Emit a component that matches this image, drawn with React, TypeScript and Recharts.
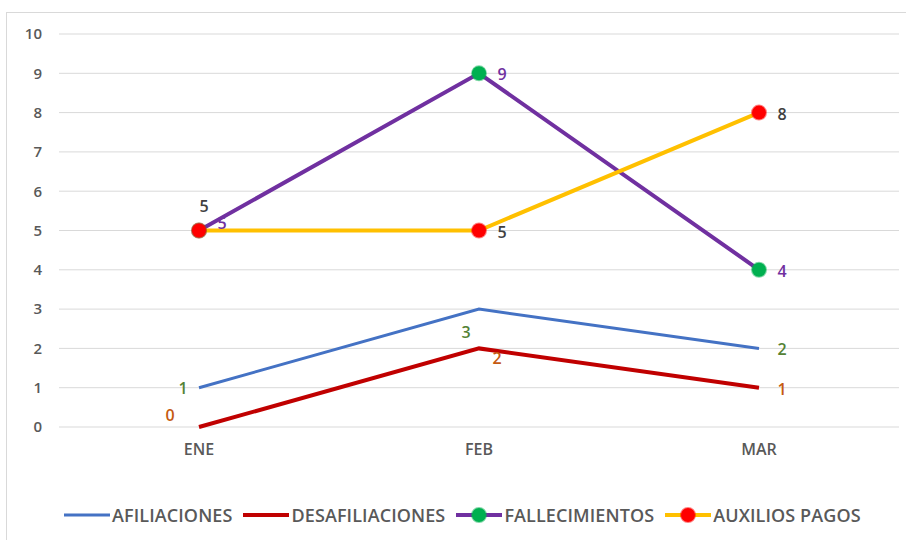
import { LineChart, Line, XAxis, YAxis, CartesianGrid, Legend } from 'recharts'

const months = ['ENE', 'FEB', 'MAR']
const afiliaciones = [1, 3, 2]
const desafiliaciones = [0, 2, 1]
const fallecimientos = [5, 9, 4]
const auxiliosPagos = [5, 5, 8]
const yTicks = [0, 1, 2, 3, 4, 5, 6, 7, 8, 9, 10]

const FONT = '"Open Sans", "Noto Sans", sans-serif'
const GRAY = '#595959'

// where each data label sits relative to its point
const afilLabelPos = ['left', 'belowLeft', 'right']
const desafLabelPos = ['leftUp', 'belowRight', 'right']
const fallLabelPos = ['rightUp', 'right', 'right']
const auxLabelPos = ['above', 'right', 'right']

const offsets: Record<string, [number, number]> = {
  left: [-16, 0],
  leftUp: [-29, -12],
  right: [23, 1],
  rightUp: [23, -8],
  above: [5, -25],
  belowLeft: [-13, 23],
  belowRight: [18, 10],
}

const data = months.map((m, i) => ({
  month: m,
  afil: afiliaciones[i],
  desaf: desafiliaciones[i],
  fall: fallecimientos[i],
  aux: auxiliosPagos[i],
}))

const makeLabel = (color: string, pos: string[]) => (props: any) => {
  const { x, y, value, index } = props
  const [dx, dy] = offsets[pos[index]] || [0, 0]
  return (
    <text
      x={x + dx}
      y={y + dy}
      textAnchor="middle"
      dominantBaseline="central"
      fill={color}
      fontSize={16}
      fontWeight={600}
      fontFamily={FONT}
    >
      {value}
    </text>
  )
}

const legendItems = [
  { name: 'AFILIACIONES', color: '#4472C4', marker: null, width: 3 },
  { name: 'DESAFILIACIONES', color: '#C00000', marker: null, width: 4 },
  { name: 'FALLECIMIENTOS', color: '#7030A0', marker: '#00B050', width: 4 },
  { name: 'AUXILIOS PAGOS', color: '#FFC000', marker: '#FF0000', width: 4 },
]

const CustomLegend = () => (
  <div style={{ height: 73, display: 'flex', alignItems: 'flex-start', paddingTop: 38, paddingLeft: 63, boxSizing: 'border-box' }}>
    {legendItems.map(it => (
      <div key={it.name} style={{ display: 'flex', alignItems: 'center', marginRight: 10 }}>
        <svg width={48} height={20}>
          <line x1={1} y1={10} x2={47} y2={10} stroke={it.color} strokeWidth={it.width} />
          {it.marker && <circle cx={24} cy={10} r={7} fill={it.marker} stroke={it.marker} strokeOpacity={0.5} strokeWidth={2} />}
        </svg>
        <span style={{ fontFamily: FONT, fontSize: 18, letterSpacing: 0.1, fontWeight: 600, color: GRAY, marginLeft: 1, lineHeight: '20px' }}>{it.name}</span>
      </div>
    ))}
  </div>
)

export default function App() {
  return (
    <div style={{ position: 'absolute', left: 0, top: 0, width: 906, height: 540, background: '#fff', overflow: 'hidden' }}>
      <div style={{ position: 'absolute', left: 6, top: 12, width: 906, height: 540, border: '1px solid #D9D9D9' }} />
      <LineChart width={906} height={540} data={data} margin={{ top: 34, right: 7, left: 0, bottom: 0 }}>
        <CartesianGrid vertical={false} stroke="#D9D9D9" strokeWidth={1} />
        <XAxis
          dataKey="month"
          padding={{ left: 140, right: 140 }}
          axisLine={false}
          tickLine={false}
          tickMargin={11}
          height={40}
          tick={{ fill: GRAY, fontSize: 16, fontFamily: FONT, fontWeight: 600 }}
        />
        <YAxis
          domain={[0, 10]}
          ticks={yTicks}
          width={59}
          axisLine={false}
          tickLine={false}
          tickMargin={11}
          tick={{ fill: GRAY, fontSize: 15, fontFamily: FONT, fontWeight: 600 }}
        />
        <Legend verticalAlign="bottom" content={<CustomLegend />} />
        <Line
          dataKey="afil"
          name="AFILIACIONES"
          stroke="#4472C4"
          strokeWidth={3}
          dot={false}
          activeDot={false}
          isAnimationActive={false}
          label={makeLabel('#548235', afilLabelPos)}
        />
        <Line
          dataKey="desaf"
          name="DESAFILIACIONES"
          stroke="#C00000"
          strokeWidth={4}
          dot={false}
          activeDot={false}
          isAnimationActive={false}
          label={makeLabel('#C55A11', desafLabelPos)}
        />
        <Line
          dataKey="fall"
          name="FALLECIMIENTOS"
          stroke="#7030A0"
          strokeWidth={4}
          dot={{ r: 7, fill: '#00B050', stroke: '#00B050', strokeOpacity: 0.5, strokeWidth: 2 }}
          activeDot={false}
          isAnimationActive={false}
          label={makeLabel('#7030A0', fallLabelPos)}
        />
        <Line
          dataKey="aux"
          name="AUXILIOS PAGOS"
          stroke="#FFC000"
          strokeWidth={4}
          dot={{ r: 7, fill: '#FF0000', stroke: '#FF0000', strokeOpacity: 0.5, strokeWidth: 2 }}
          activeDot={false}
          isAnimationActive={false}
          label={makeLabel('#404040', auxLabelPos)}
        />
      </LineChart>
    </div>
  )
}
